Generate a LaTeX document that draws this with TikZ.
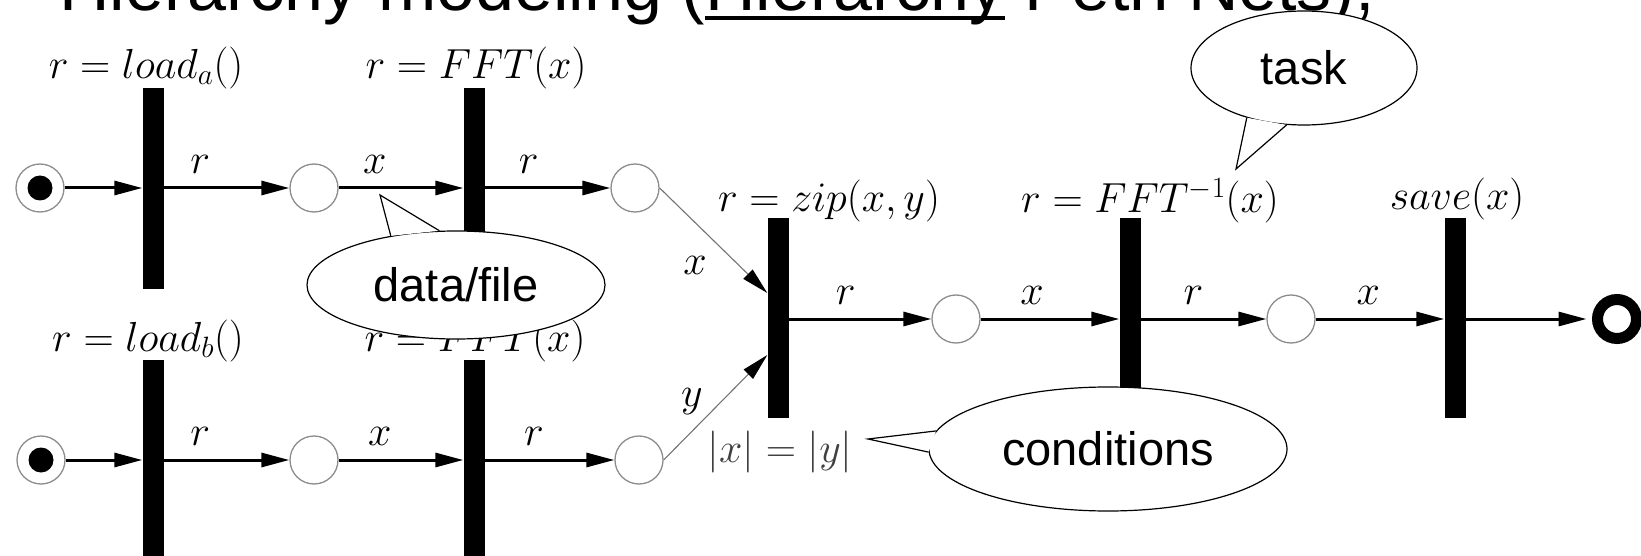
\RequirePackage{fix-cm}
\documentclass[tikz,border=0pt]{standalone}
\usepackage{fontspec}
\newfontfamily\helv{Liberation Sans}
\usetikzlibrary{arrows.meta,calc,shapes.geometric}
\begin{document}
\begin{tikzpicture}[x=1pt,y=-1pt,
  place/.style={circle,draw=black!45,line width=1.3pt,minimum size=48pt,inner sep=0pt},
  tok/.style={circle,fill=black,minimum size=25pt,inner sep=0pt},
  endplace/.style={circle,draw=black,line width=11pt,minimum size=39pt,inner sep=0pt},
  bar/.style={fill=black,minimum width=21pt,inner sep=0pt},
  arc/.style={line width=3pt,-{Triangle[length=28pt,width=14pt]}},
  thinarc/.style={line width=1.1pt,draw=black!55,-{Triangle[length=27pt,width=13pt,color=black]}},
  mlab/.style={font=\fontsize{42}{46}\selectfont,inner sep=0pt},
  elab/.style={font=\fontsize{42}{46}\selectfont,inner sep=0pt,above=13pt},
  tt/.style={anchor=base west,inner sep=0pt,font=\helv\fontsize{70}{74}\selectfont},
  callout/.style={ellipse,draw,line width=1.2pt,fill=white,inner sep=0pt,font=\helv\fontsize{47}{50}\selectfont},
  pointer/.style={draw,line width=1.2pt}
]
\path[use as bounding box] (0,0) rectangle (1641,556);
\clip (0,0) rectangle (1641,556);

% title (top cut off by the picture edge)
\node[tt] (ti1) at (59,11) {Hierarchy modeling (};
\node[tt] (ti2) at (ti1.base east) {Hierarchy};
\node[tt] (ti3) at (ti2.base east) {~Petri Nets);};
\draw[line width=3.5pt] ($(ti2.base west)+(0,7)$) -- ($(ti2.base east)+(0,7)$);

% top row
\node[place] (s1) at (40,188) {};
\node[tok] (s1t) at (s1) {};
\node[bar,minimum height=200pt] (t1) at (153,188.5) {};
\node[place] (p1) at (314,188) {};
\node[bar,minimum height=200pt] (t2) at (474,188.5) {};
\node[place] (p2) at (635,188) {};

% bottom row
\node[place] (s2) at (41,460) {};
\node[tok] (s2t) at (s2) {};
\node[bar,minimum height=240pt] (t3) at (153,480) {};
\node[place] (p3) at (314,460) {};
\node[bar,minimum height=240pt] (t4) at (474,480) {};
\node[place] (p4) at (639,460) {};

% middle row
\node[bar,minimum height=200pt] (t5) at (778,318) {};
\node[place] (p5) at (956,319) {};
\node[bar,minimum height=200pt] (t6) at (1130,318) {};
\node[place] (p6) at (1291,319) {};
\node[bar,minimum height=200pt] (t7) at (1455,318) {};
\node[endplace] (e) at (1617,319) {};

% arcs top
\draw[arc] (s1) -- (t1.west |- s1);
\draw[arc] (t1.east |- p1) -- node[elab,pos=0.29]{$r$} (p1);
\draw[arc] (p1) -- node[elab,pos=0.29]{$x$} (t2.west |- p1);
\draw[arc] (t2.east |- p2) -- node[elab,pos=0.35]{$r$} (p2);
% arcs bottom
\draw[arc] (s2) -- (t3.west |- s2);
\draw[arc] (t3.east |- p3) -- node[elab,pos=0.29]{$r$} (p3);
\draw[arc] (p3) -- node[elab,pos=0.33]{$x$} (t4.west |- p3);
\draw[arc] (t4.east |- p4) -- node[elab,pos=0.38]{$r$} (p4);
% arcs middle
\draw[arc] (t5.east |- p5) -- node[elab,pos=0.40]{$r$} (p5);
\draw[arc] (p5) -- node[elab,pos=0.37]{$x$} (t6.west |- p5);
\draw[arc] (t6.east |- p6) -- node[elab,pos=0.42]{$r$} (p6);
\draw[arc] (p6) -- node[elab,pos=0.41]{$x$} (t7.west |- p6);
\draw[arc,shorten >=5.5pt] (t7.east |- e) -- (e);
% diagonal arcs
\coordinate (t5a) at ($(t5.west)+(0,-25)$);
\coordinate (t5b) at ($(t5.west)+(0,37)$);
\draw[thinarc] (p2.east) -- (t5a);
\draw[thinarc] (p4.east) -- (t5b);
\node[mlab] (lx) at (695,265) {$x$};
\node[mlab] (ly) at (692,402) {$y$};

% transition labels
\node[mlab] (l1) at (146,68) {$r = load_a()$};
\node[mlab] (l2) at (476,68) {$r = FFT(x)$};
\node[mlab] (l3) at (148,341) {$r = load_b()$};
\node[mlab] (l4) at (475,341) {$r = FFT(x)$};
\node[mlab] (l5) at (829,201) {$r = zip(x,y)$};
\node[mlab] (l6) at (1150,201) {$r = FFT^{-1}(x)$};
\node[mlab] (l7) at (1457,199) {$save(x)$};
\node[mlab,text=black!75] (l8) at (780,452) {$|x| = |y|$};

% callouts
\node[callout,minimum width=226pt,minimum height=114pt] (task) at (1304,68) {task};
\coordinate (tasktip) at (1236,169);
\fill[white] (task.221) -- (tasktip) -- (task.253) -- cycle;
\draw[pointer] (task.221) -- (tasktip) -- (task.253);

\node[callout,minimum width=298pt,minimum height=108pt] (df) at (456,285) {data/file};
\coordinate (dftip) at (380,195);
\fill[white] (df.143) -- (dftip) -- (df.107) -- cycle;
\draw[pointer] (df.143) -- (dftip) -- (df.107);

\node[callout,minimum width=358pt,minimum height=124pt] (cond) at (1108,449) {conditions};
\coordinate (condtip) at (868,439);
\fill[white] (cond.174) -- (condtip) -- (cond.181) -- cycle;
\draw[pointer] (cond.174) -- (condtip) -- (cond.181);
\end{tikzpicture}
\end{document}
